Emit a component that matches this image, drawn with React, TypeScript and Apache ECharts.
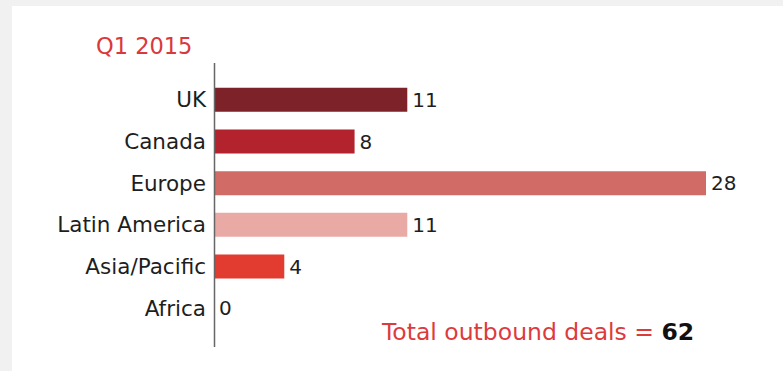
import React, { useEffect, useRef } from "react";
import * as echarts from "echarts";

const categories = ["UK", "Canada", "Europe", "Latin America", "Asia/Pacific", "Africa"];
const deals = [11, 8, 28, 11, 4, 0];
const barColors = ["#7d2229", "#b2232d", "#d06b66", "#e9aaa6", "#e23b2f", "#e23b2f"];
const titleText = "Q1 2015";
const totalLabel = "Total outbound deals = ";
const totalValue = 62;

const FONT = "'DejaVu Sans', sans-serif";

export default function App() {
  const ref = useRef<HTMLDivElement>(null);
  useEffect(() => {
    if (!ref.current) return;
    const chart = echarts.init(ref.current, null, { renderer: "svg" });
    chart.setOption({
      animation: false,
      backgroundColor: "#f1f1f1",
      grid: {
        left: 214,
        top: 79,
        width: 492,
        height: 250,
        containLabel: false,
        outerBoundsMode: "none",
      },
      xAxis: {
        type: "value",
        min: 0,
        max: 28,
        show: false,
      },
      yAxis: {
        type: "category",
        inverse: true,
        data: categories,
        axisLine: { show: false },
        axisTick: { show: false },
        splitLine: { show: false },
        axisLabel: {
          fontFamily: FONT,
          fontSize: 21.5,
          color: "#1e1e1e",
          margin: 8,
        },
      },
      series: [
        {
          type: "bar",
          barWidth: 24,
          data: deals.map((v, i) => ({ value: v, itemStyle: { color: barColors[i] } })),
          label: {
            show: true,
            position: "right",
            distance: 5,
            fontFamily: FONT,
            fontSize: 20,
            color: "#1e1e1e",
          },
        },
      ],
      graphic: [
        {
          type: "rect",
          z: -10,
          silent: true,
          shape: { x: 12, y: 6, width: 771, height: 365 },
          style: { fill: "#ffffff" },
        },
        {
          type: "line",
          z: 10,
          silent: true,
          shape: { x1: 214.5, y1: 63, x2: 214.5, y2: 347 },
          style: { stroke: "#666", lineWidth: 1.5 },
        },
        {
          type: "text",
          x: 96,
          y: 46,
          style: {
            text: titleText,
            fontFamily: FONT,
            fontSize: 22.5,
            fill: "#d9383d",
            textVerticalAlign: "middle",
          },
        },
        {
          type: "text",
          x: 382,
          y: 332,
          style: {
            text: "{a|" + totalLabel + "}{b|" + totalValue + "}",
            textVerticalAlign: "middle",
            rich: {
              a: { fontFamily: FONT, fontSize: 23.5, fill: "#dd3b3b", color: "#dd3b3b" },
              b: { fontFamily: FONT, fontSize: 23.5, fontWeight: "bold", fill: "#111", color: "#111" },
            },
          },
        },
      ],
    });
    return () => chart.dispose();
  }, []);
  return (
    <div
      ref={ref}
      style={{ position: "absolute", left: 0, top: 0, width: 783, height: 371 }}
    />
  );
}
